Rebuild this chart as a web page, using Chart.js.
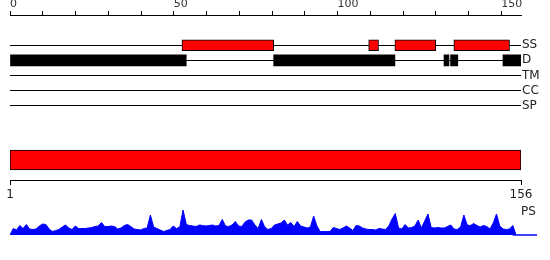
<!DOCTYPE html>
<html lang="en">
<head>
  <meta charset="UTF-8">
  <title>Protein features</title>
  <style>
    body { margin: 0; background: #fff; }
    .wrap { position: relative; width: 550px; height: 260px; }
    .wrap canvas { position: absolute; left: 0; }
    #tracks { top: 0; }
    #seq { top: 140px; }
    #ps { top: 200px; }
    .ps-label { position: absolute; left: 521px; top: 204px; font: 12px "DejaVu Sans", sans-serif; color: #222; }
  </style>
</head>
<body>
  <div class="wrap">
    <canvas id="tracks" width="550" height="129"></canvas>
    <canvas id="seq" width="550" height="62"></canvas>
    <canvas id="ps" width="550" height="40"></canvas>
    <div class="ps-label">PS</div>
  </div>
  <script src="https://cdn.jsdelivr.net/npm/chart.js@4/dist/chart.umd.min.js"></script>
  <script>
    // feature tracks, top to bottom
    const tracks = ['SS', 'D', 'TM', 'CC', 'SP'];
    const ssRanges = [[52.5, 80.5], [109.5, 112.5], [117.5, 130], [135.5, 152.5]];
    const dRanges = [[0, 53.8], [80.5, 117.5], [132.5, 134], [134.5, 136.7], [150.5, 156]];
    const topTicks = [0, 50, 100, 150];
    const seqLength = 156;
    const seqTicks = [1, 156];
    // PS profile, one value per residue
    const psValues = [
      0, 6.5, 5, 9.5, 6.5, 10.5, 6, 5.5, 6, 9,
      11, 10.5, 6, 3.5, 4.5, 5.5, 8, 10, 7, 5.5,
      9, 6.5, 6.5, 6.5, 7, 7.5, 8.5, 9, 12.5, 8.5,
      8.5, 9, 8.5, 6, 7, 9.5, 10.5, 8.5, 6, 5.5,
      5, 6.5, 7, 20, 8, 6.5, 5, 3.5, 4.5, 5.5,
      9, 6.5, 8, 25, 10.5, 9.5, 9, 8.5, 10, 9.5,
      9, 9.5, 10, 9, 9.5, 15.5, 9, 8.5, 10, 13.5,
      9, 8.5, 13, 15, 15, 10, 6.5, 15.5, 8, 5.5,
      6.5, 10, 11, 12, 15, 10, 12.5, 8.5, 13.5, 9,
      8, 7, 8, 19, 9, 3.5, 3.5, 3.5, 3.5, 7.5,
      6.5, 5.5, 7, 9, 7, 4.5, 9.5, 9, 7, 6,
      5.5, 5.5, 5, 6.5, 6, 5.5, 9, 16, 21.5, 7,
      6, 10.5, 7, 7.5, 9, 15, 7, 14, 21, 7.5,
      7, 7.5, 7, 7, 8.5, 10, 6, 5.5, 8, 20,
      10, 9.5, 11.5, 9.5, 8, 9.5, 8.5, 6, 12, 21,
      9, 6, 5.5, 6, 9.5, 0
    ];
    const psEnd = 162.4;

    Chart.defaults.font.family = '"DejaVu Sans", sans-serif';
    Chart.defaults.animation = false;
    Chart.defaults.plugins.legend.display = false;
    Chart.defaults.plugins.tooltip.enabled = false;

    // track rows sit at y = 2..6 on a 0..7 scale
    const rowOf = (name) => tracks.indexOf(name) + 2;
    const trackAt = (v) => tracks[v - 2] || '';

    new Chart(document.querySelector('#tracks'), {
      type: 'bar',
      data: {
        datasets: [
          {
            data: ssRanges.map((r) => ({ x: r, y: rowOf('SS') })),
            backgroundColor: '#ff0000',
            borderColor: '#000',
            borderWidth: 1,
            borderSkipped: false,
            barThickness: 11,
          },
          {
            data: dRanges.map((r) => ({ x: r, y: rowOf('D') })),
            backgroundColor: '#000',
            barThickness: 11,
          }
        ]
      },
      options: {
        responsive: false,
        indexAxis: 'y',
        grouped: false,
        layout: { padding: { left: 10 } },
        scales: {
          x: {
            type: 'linear',
            position: 'top',
            min: 0,
            max: seqLength,
            ticks: {
              stepSize: 10,
              includeBounds: false,
              align: 'start',
              padding: 0,
              color: '#333',
              font: { size: 11 },
              callback: (v) => topTicks.includes(v) ? String(v) : '',
            },
            grid: { drawOnChartArea: false, color: '#000', tickLength: 4 },
            border: { color: '#000' },
            afterFit: (axis) => { axis.height = 15; },
          },
          y: {
            type: 'linear',
            position: 'right',
            reverse: true,
            offset: false,
            min: 0,
            max: 7,
            ticks: {
              stepSize: 1,
              autoSkip: false,
              padding: 1,
              color: '#222',
              font: { size: 12 },
              callback: (v) => trackAt(v),
            },
            grid: {
              offset: false,
              color: (ctx) => (ctx.tick && trackAt(ctx.tick.value)) ? '#000' : 'rgba(0,0,0,0)',
              drawTicks: false,
            },
            border: { display: false },
            afterFit: (axis) => { axis.width = 29; },
          }
        }
      }
    });

    new Chart(document.querySelector('#seq'), {
      type: 'bar',
      data: {
        datasets: [{
          data: [{ x: [1, seqLength], y: 0.5 }],
          backgroundColor: '#ff0000',
          borderColor: '#000',
          borderWidth: 1,
          borderSkipped: false,
          barThickness: 20,
        }]
      },
      options: {
        responsive: false,
        indexAxis: 'y',
        layout: { padding: { left: 10, right: 29 } },
        scales: {
          x: {
            type: 'linear',
            position: 'bottom',
            min: 1,
            max: seqLength,
            afterBuildTicks: (axis) => { axis.ticks = seqTicks.map((v) => ({ value: v })); },
            ticks: { padding: 3, color: '#222', font: { size: 12 } },
            grid: { drawOnChartArea: false, color: '#000', tickLength: 5 },
            border: { color: '#000' },
            afterFit: (axis) => { axis.height = 22; },
          },
          y: { type: 'linear', offset: false, min: 0, max: 1, display: false }
        }
      }
    });

    new Chart(document.querySelector('#ps'), {
      type: 'line',
      data: {
        datasets: [
          {
            data: psValues.map((v, i) => ({ x: i + 1, y: v })),
            borderColor: '#0000ff',
            backgroundColor: '#0000ff',
            borderWidth: 1,
            pointRadius: 0,
            fill: 'origin',
          },
          {
            data: [{ x: seqLength - 1, y: 0 }, { x: psEnd, y: 0 }],
            borderColor: '#0000ff',
            borderWidth: 1.5,
            pointRadius: 0,
            fill: false,
            clip: 3,
          }
        ]
      },
      options: {
        responsive: false,
        layout: { padding: { left: 10, right: 13, bottom: 5 } },
        scales: {
          x: { type: 'linear', min: 1, max: psEnd, display: false },
          y: { min: 0, max: 35, display: false }
        }
      }
    });
  </script>
</body>
</html>
